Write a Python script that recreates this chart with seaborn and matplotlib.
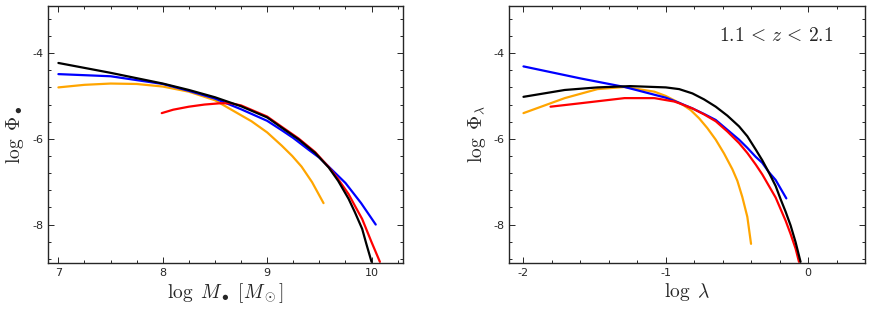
import numpy as np
import pandas as pd
import matplotlib
matplotlib.use("Agg")
import matplotlib.pyplot as plt
import seaborn as sns
from matplotlib.ticker import MultipleLocator

# Left panel: black hole mass function
mass_black_x = [7.0, 7.5, 8.0, 8.25, 8.5, 8.75, 9.0, 9.14, 9.3, 9.46, 9.59, 9.68, 9.78, 9.84, 9.91, 9.95, 10.0]
mass_black_y = [-4.23, -4.46, -4.71, -4.86, -5.03, -5.24, -5.50, -5.74, -6.01, -6.33, -6.67, -6.98, -7.40, -7.71, -8.10, -8.45, -8.87]
mass_blue_x = [7.0, 7.5, 8.0, 8.25, 8.5, 8.75, 9.0, 9.14, 9.25, 9.4, 9.5, 9.59, 9.75, 9.9, 10.04]
mass_blue_y = [-4.49, -4.54, -4.72, -4.88, -5.06, -5.31, -5.58, -5.80, -5.98, -6.26, -6.44, -6.65, -7.03, -7.50, -8.0]
mass_orange_x = [7.0, 7.25, 7.5, 7.75, 8.0, 8.25, 8.5, 8.75, 8.85, 9.0, 9.14, 9.24, 9.33, 9.43, 9.54]
mass_orange_y = [-4.80, -4.74, -4.71, -4.72, -4.78, -4.90, -5.10, -5.45, -5.59, -5.85, -6.16, -6.40, -6.65, -7.01, -7.50]
mass_red_x = [7.99, 8.1, 8.25, 8.4, 8.55, 8.65, 8.75, 9.0, 9.14, 9.3, 9.46, 9.59, 9.68, 9.78, 9.84, 9.91, 10.0, 10.04, 10.08]
mass_red_y = [-5.40, -5.32, -5.25, -5.20, -5.17, -5.17, -5.22, -5.48, -5.72, -5.99, -6.31, -6.66, -6.94, -7.29, -7.56, -7.87, -8.41, -8.64, -8.87]

# Right panel: Eddington ratio distribution function
edd_black_x = [-2.0, -1.71, -1.48, -1.25, -1.0, -0.906, -0.813, -0.731, -0.649, -0.567, -0.485, -0.427,
               -0.368, -0.322, -0.275, -0.228, -0.193, -0.158, -0.123, -0.088, -0.053]
edd_black_y = [-5.02, -4.86, -4.80, -4.77, -4.80, -4.84, -4.94, -5.08, -5.25, -5.46, -5.71, -5.94,
               -6.25, -6.50, -6.79, -7.10, -7.41, -7.70, -8.02, -8.41, -8.87]
edd_blue_x = [-2.0, -1.6, -1.29, -1.0, -0.906, -0.813, -0.731, -0.649, -0.567, -0.485, -0.427, -0.368,
              -0.322, -0.275, -0.228, -0.153]
edd_blue_y = [-4.31, -4.59, -4.79, -5.04, -5.16, -5.29, -5.42, -5.56, -5.79, -6.02, -6.21, -6.42,
              -6.56, -6.78, -6.96, -7.39]
edd_orange_x = [-2.0, -1.71, -1.48, -1.29, -1.08, -1.0, -0.883, -0.825, -0.766, -0.708, -0.649, -0.591,
                -0.532, -0.497, -0.462, -0.427, -0.401]
edd_orange_y = [-5.40, -5.05, -4.84, -4.79, -4.90, -5.00, -5.20, -5.33, -5.52, -5.75, -6.02, -6.34,
                -6.71, -6.98, -7.36, -7.82, -8.45]
edd_red_x = [-1.81, -1.6, -1.29, -1.08, -0.94, -0.906, -0.813, -0.731, -0.649, -0.567, -0.485, -0.427,
             -0.368, -0.322, -0.275, -0.228, -0.193, -0.158, -0.123, -0.088, -0.064]
edd_red_y = [-5.25, -5.17, -5.05, -5.05, -5.13, -5.17, -5.29, -5.43, -5.59, -5.83, -6.10, -6.33,
             -6.60, -6.83, -7.10, -7.37, -7.64, -7.91, -8.22, -8.56, -8.87]

colors = {"orange": "#ffa500", "blue": "#0000ff", "red": "#ff0000", "black": "#000000"}


def make_df(curves):
    frames = []
    for name, xs, ys in curves:
        frames.append(pd.DataFrame({"x": xs, "y": ys, "curve": name}))
    return pd.concat(frames, ignore_index=True)


left_df = make_df([
    ("orange", mass_orange_x, mass_orange_y),
    ("blue", mass_blue_x, mass_blue_y),
    ("red", mass_red_x, mass_red_y),
    ("black", mass_black_x, mass_black_y),
])
right_df = make_df([
    ("orange", edd_orange_x, edd_orange_y),
    ("blue", edd_blue_x, edd_blue_y),
    ("red", edd_red_x, edd_red_y),
    ("black", edd_black_x, edd_black_y),
])

sns.set_style("ticks")
plt.rcParams["mathtext.fontset"] = "cm"
plt.rcParams["axes.unicode_minus"] = False
plt.rcParams["font.family"] = ["DejaVu Sans"]

fig = plt.figure(figsize=(8.72, 3.14), dpi=100)
ax1 = fig.add_axes([0.055, 0.162, 0.407, 0.819])
ax2 = fig.add_axes([0.584, 0.162, 0.408, 0.819])

for ax, df in [(ax1, left_df), (ax2, right_df)]:
    sns.lineplot(data=df, x="x", y="y", hue="curve", palette=colors,
                 sort=False, estimator=None, linewidth=1.6, legend=False, ax=ax)
    ax.set_ylim(-8.9, -2.9)
    ax.yaxis.set_major_locator(MultipleLocator(2))
    ax.yaxis.set_minor_locator(MultipleLocator(0.4))
    ax.tick_params(which="both", direction="in", top=True, right=True,
                   labelsize=8, width=0.7)
    ax.tick_params(which="major", length=4)
    ax.tick_params(which="minor", length=2)
    for s in ax.spines.values():
        s.set_linewidth(1.0)

ax1.set_xlim(6.9, 10.3)
ax1.xaxis.set_major_locator(MultipleLocator(1))
ax1.xaxis.set_minor_locator(MultipleLocator(0.25))
ax1.set_xlabel(r"$\log\ M_\bullet\ [M_\odot]$", fontsize=14, labelpad=2)
ax1.set_ylabel(r"$\log\ \Phi_\bullet$", fontsize=14, labelpad=4)

ax2.set_xlim(-2.1, 0.4)
ax2.xaxis.set_major_locator(MultipleLocator(1))
ax2.xaxis.set_minor_locator(MultipleLocator(0.2))
ax2.set_xlabel(r"$\log\ \lambda$", fontsize=14, labelpad=2)
ax2.set_ylabel(r"$\log\ \Phi_\lambda$", fontsize=14, labelpad=4)
ax2.text(0.75, 0.887, r"$1.1\,{<}\,z\,{<}\,2.1$", transform=ax2.transAxes,
         ha="center", va="center", fontsize=14)

plt.savefig("out.png", dpi=100)
